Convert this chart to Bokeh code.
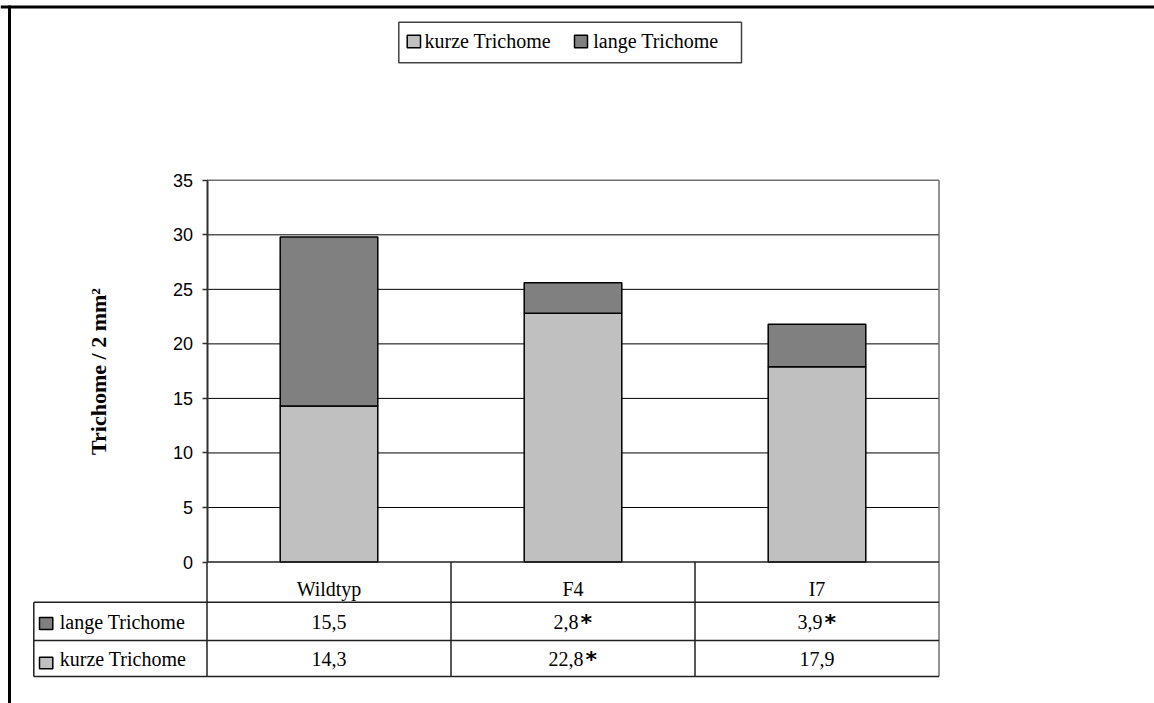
import math
from bokeh.plotting import figure
from bokeh.models import Range1d, LinearAxis, FixedTicker, ColumnDataSource
from bokeh.core.properties import value
from bokeh.embed import file_html
from bokeh.resources import INLINE

# ---------------- data ----------------
categories = ["Wildtyp", "F4", "I7"]
kurze = [14.3, 22.8, 17.9]
lange = [15.5, 2.8, 3.9]
sig_kurze = [False, True, False]
sig_lange = [False, True, True]
y_ticks = [0, 5, 10, 15, 20, 25, 30, 35]
series_names = ["kurze Trichome", "lange Trichome"]
series_colors = ["#C0C0C0", "#808080"]
y_title = "Trichome / 2 mm²"

# ---------------- layout (page pixels) ----------------
W, H = 1154, 703
PLOT_L, PLOT_R = 206.5, 938.5
Y0_PX, YTOP_PX = 561.5, 179.8
TABLE_L = 33.3
ROW_LINES = [601.7, 640.0, 676.0]
BL = 6.5  # baseline correction

col_w = (PLOT_R - PLOT_L) / len(categories)
v_scale = (Y0_PX - YTOP_PX) / y_ticks[-1]


def X(px):
    return (px - PLOT_L) / col_w


def Y(py):
    return (Y0_PX - py) / v_scale


SERIF = value("Liberation Serif")
AST_FONT = value("DejaVu Sans")

p = figure(width=W, height=H, x_range=Range1d(X(0), X(W)),
           y_range=Range1d(Y(H), Y(0)),
           x_axis_type=None, y_axis_type=None, toolbar_location=None,
           output_backend="svg", min_border=0, title=None)
p.min_border_left = p.min_border_right = p.min_border_top = p.min_border_bottom = 0
p.outline_line_color = None
p.background_fill_color = "white"
p.border_fill_color = "white"

n = len(categories)
xs = [i + 0.5 for i in range(n)]

# outer frame (top and left edges)
p.segment(x0=[X(0), X(9)], y0=[Y(6.5), Y(5)],
          x1=[X(W), X(9)], y1=[Y(6.5), Y(H)],
          line_color="black", line_width=3)

# gridlines
grid_vals = y_ticks[1:-1]
p.segment(x0=[0] * len(grid_vals), x1=[n] * len(grid_vals), y0=grid_vals, y1=grid_vals,
          line_color="black", line_width=1)
# plot area top / right border
p.segment(x0=[0, n], x1=[n, n], y0=[y_ticks[-1], y_ticks[-1]], y1=[y_ticks[-1], Y(ROW_LINES[-1])],
          line_color="#707070", line_width=1.5)

# bars
src = ColumnDataSource(dict(x=xs, kurze=kurze, lange=lange))
p.vbar_stack(["kurze", "lange"], x="x", width=0.4, source=src,
             fill_color=series_colors, line_color="black", line_width=1.5)

# table lines
tl = "#202020"
p.segment(x0=[0], x1=[n], y0=[0], y1=[0], line_color=tl, line_width=1.5)
p.segment(x0=[X(TABLE_L)] * len(ROW_LINES), x1=[n] * len(ROW_LINES),
          y0=[Y(r) for r in ROW_LINES], y1=[Y(r) for r in ROW_LINES],
          line_color=tl, line_width=1.5)
p.segment(x0=[X(TABLE_L)], x1=[X(TABLE_L)], y0=[Y(ROW_LINES[0])], y1=[Y(ROW_LINES[-1])],
          line_color=tl, line_width=1.5)
p.segment(x0=list(range(n)), x1=list(range(n)), y0=[0] * n, y1=[Y(ROW_LINES[-1])] * n,
          line_color=tl, line_width=1.5)

# y axis
ax = LinearAxis(fixed_location=0, bounds=(y_ticks[0], y_ticks[-1]),
                ticker=FixedTicker(ticks=y_ticks, minor_ticks=[]))
ax.axis_line_color = "#303030"
ax.axis_line_width = 2
ax.major_tick_line_color = "#303030"
ax.major_tick_line_width = 1.5
ax.major_tick_out = 5
ax.major_tick_in = 0
ax.minor_tick_out = 0
ax.minor_tick_in = 0
ax.major_label_standoff = 9
ax.major_label_text_font = "Liberation Sans"
ax.major_label_text_font_size = "18px"
ax.major_label_text_color = "black"
p.add_layout(ax, "left")

# y title
p.text(x=[X(98)], y=[Y(371)], text=[y_title], angle=math.pi / 2,
       text_align="center", text_baseline="middle", text_font=SERIF,
       text_font_style="bold", text_font_size="22px", text_color="black")

FS = 20
# header row
p.text(x=xs, y=[Y(594.5 - BL)] * n, text=categories, text_font=SERIF, text_font_size=f"{FS}px",
       text_align="center", text_baseline="alphabetic", text_color="black")


def fmt(v):
    return f"{v:.1f}".replace(".", ",")


def num_w(s):
    return sum(0.25 if c == "," else 0.5 for c in s) * FS


AST_W = 12.0
AST_GAP = 2.0
rows = [(lange, sig_lange, 627.5, series_colors[1], series_names[1], (617, 629)),
        (kurze, sig_kurze, 664.5, series_colors[0], series_names[0], (656.7, 668.3))]
for vals, sigs, base, col, name, (sq_t, sq_b) in rows:
    for i, (v, s) in enumerate(zip(vals, sigs)):
        t = fmt(v)
        c = xs[i]
        if s:
            total = num_w(t) + AST_GAP + AST_W
            left = c - (total / 2) / col_w
            p.text(x=[left], y=[Y(base - BL)], text=[t], text_font=SERIF, text_font_size=f"{FS}px",
                   text_align="left", text_baseline="alphabetic", text_color="black")
            p.text(x=[left + (num_w(t) + AST_GAP) / col_w], y=[Y(base - BL + 1)], text=["*"],
                   text_font=AST_FONT, text_font_style="bold", text_font_size="22px",
                   text_align="left", text_baseline="alphabetic", text_color="black")
        else:
            p.text(x=[c], y=[Y(base - BL)], text=[t], text_font=SERIF, text_font_size=f"{FS}px",
                   text_align="center", text_baseline="alphabetic", text_color="black")
    # row header
    p.quad(left=[X(39)], right=[X(52.3)], top=[Y(sq_t)], bottom=[Y(sq_b)],
           fill_color=col, line_color="black", line_width=1.5)
    p.text(x=[X(59.3)], y=[Y(base - BL)], text=[name], text_font=SERIF, text_font_size=f"{FS}px",
           text_align="left", text_baseline="alphabetic", text_color="black")

# legend
p.quad(left=[X(398.3)], right=[X(741)], top=[Y(21.7)], bottom=[Y(62.3)],
       fill_color="white", line_color="#404040", line_width=1.5)
leg_sq = [(406.7, 420.0, 424.0), (574.0, 587.0, 592.7)]
for (l, r, tx), col, name in zip(leg_sq, series_colors, series_names):
    p.quad(left=[X(l)], right=[X(r)], top=[Y(34.7)], bottom=[Y(47.3)],
           fill_color=col, line_color="black", line_width=1.5)
    p.text(x=[X(tx)], y=[Y(47 - BL)], text=[name], text_font=SERIF, text_font_size=f"{FS}px",
           text_align="left", text_baseline="alphabetic", text_color="black")

open("out.html", "w").write(file_html(p, INLINE))
